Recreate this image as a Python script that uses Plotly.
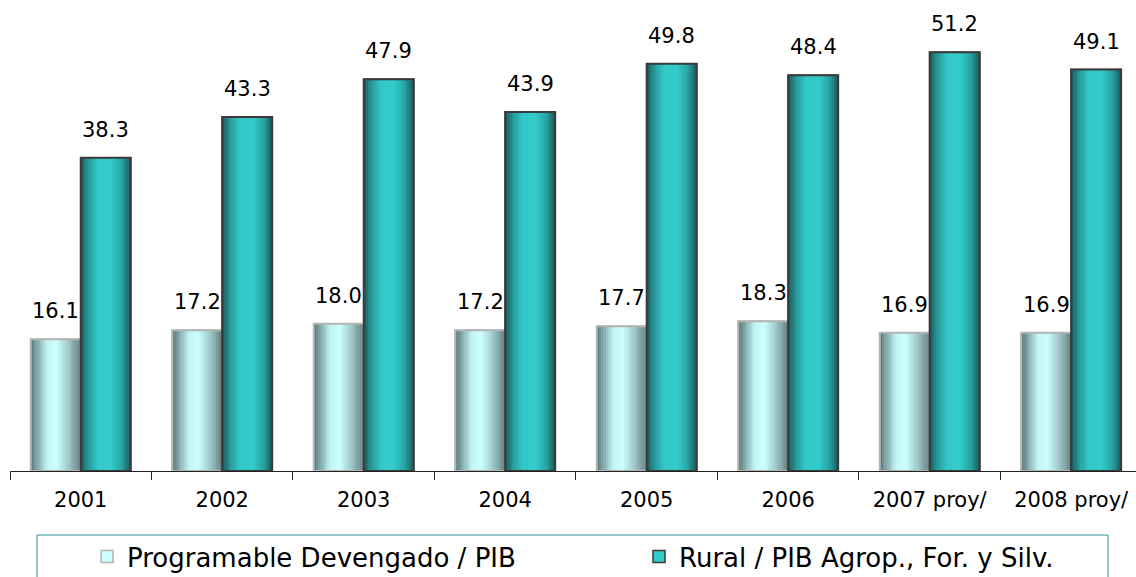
import plotly.graph_objects as go

years = ["2001", "2002", "2003", "2004", "2005", "2006", "2007 proy/", "2008 proy/"]
programable = [16.1, 17.2, 18.0, 17.2, 17.7, 18.3, 16.9, 16.9]
rural = [38.3, 43.3, 47.9, 43.9, 49.8, 48.4, 51.2, 49.1]
series_names = ["Programable Devengado / PIB", "Rural / PIB Agrop., For. y Silv."]

FONT = "DejaVu Sans"
BAR_W = 0.353
N_SLICES = 22

prog_stops = [(0.0, (0x54, 0x74, 0x74)), (0.15, (0x86, 0xae, 0xae)), (0.33, (0xc4, 0xf4, 0xf4)),
              (0.52, (0xcc, 0xff, 0xff)), (0.75, (0xa0, 0xc8, 0xc8)), (1.0, (0x62, 0x7e, 0x7e))]
rural_stops = [(0.0, (0x1c, 0x58, 0x58)), (0.15, (0x27, 0x96, 0x96)), (0.35, (0x33, 0xc8, 0xc8)),
               (0.6, (0x33, 0xcc, 0xcc)), (0.82, (0x29, 0xa4, 0xa4)), (1.0, (0x1a, 0x56, 0x56))]


def grad(stops, t):
    for (t0, c0), (t1, c1) in zip(stops[:-1], stops[1:]):
        if t0 <= t <= t1:
            f = (t - t0) / (t1 - t0)
            return "rgb(%d,%d,%d)" % tuple(round(a + (b - a) * f) for a, b in zip(c0, c1))
    return "rgb(%d,%d,%d)" % stops[-1][1]


fig = go.Figure()

specs = [
    (series_names[0], programable, -BAR_W, prog_stops, "#ccffff", "#b4b4b4"),
    (series_names[1], rural, 0.0, rural_stops, "#33cccc", "#3a3a3a"),
]

for name, vals, off, stops, mid, edge in specs:
    # base bar (legend entry)
    fig.add_trace(go.Bar(x=years, y=vals, name=name, offset=off, width=BAR_W,
                         marker=dict(color=mid, line=dict(color=edge, width=1.5)),
                         legendgroup=name, hoverinfo="skip"))
    # cylinder-like shading slices
    sw = BAR_W / N_SLICES
    for i in range(N_SLICES):
        t = (i + 0.5) / N_SLICES
        fig.add_trace(go.Bar(x=years, y=vals, offset=off + i * sw, width=sw * 1.15 if i < N_SLICES - 1 else sw,
                             marker=dict(color=grad(stops, t), line=dict(width=0)),
                             showlegend=False, legendgroup=name, hoverinfo="skip"))
    # outline
    fig.add_trace(go.Bar(x=years, y=vals, offset=off, width=BAR_W,
                         marker=dict(color="rgba(0,0,0,0)", line=dict(color=edge, width=2)),
                         showlegend=False, legendgroup=name, name=name,
                         hovertemplate="%{x}: %{y:.1f}<extra>" + name + "</extra>"))

annotations = []
for vals, off in [(programable, -BAR_W / 2), (rural, BAR_W / 2)]:
    for i, v in enumerate(vals):
        annotations.append(dict(x=i + off, y=v, xref="x", yref="y", text=f"{v:.1f}",
                                showarrow=False, yanchor="middle", yshift=28,
                                font=dict(family=FONT, size=21, color="#000000")))

fig.update_layout(
    width=1136, height=577,
    barmode="overlay",
    plot_bgcolor="white", paper_bgcolor="white",
    margin=dict(l=10, r=0, t=0, b=106, autoexpand=False),
    font=dict(family=FONT, color="#000000"),
    showlegend=True,
    legend=dict(orientation="h", x=(87 - 10) / 1126, xanchor="left",
                y=(471 - 533) / 471, yanchor="top",
                font=dict(family=FONT, size=26, color="#000000"),
                entrywidth=507, entrywidthmode="pixels",
                bgcolor="rgba(0,0,0,0)", borderwidth=0, traceorder="normal"),
    annotations=annotations,
    shapes=[dict(type="rect", xref="paper", yref="paper",
                 x0=(37 - 10) / 1126, x1=(1108 - 10) / 1126,
                 y0=(471 - 535) / 471, y1=(471 - 620) / 471,
                 line=dict(color="#2f9393", width=1), fillcolor="rgba(0,0,0,0)", layer="below")],
)

fig.update_xaxes(type="category", range=[-0.5, 7.458], showline=True, linecolor="#222222", linewidth=1,
                 ticks="outside", tickson="boundaries", ticklen=8, tickcolor="#222222",
                 tickfont=dict(family=FONT, size=21, color="#000000"), ticklabelstandoff=10,
                 showgrid=False, zeroline=False, fixedrange=True)
fig.update_yaxes(range=[0, 57.6], visible=False, showgrid=False, zeroline=False, fixedrange=True)

fig.write_html("out.html", config={"displayModeBar": False},
               post_script="document.body.style.margin='0';document.body.style.overflow='hidden';")
